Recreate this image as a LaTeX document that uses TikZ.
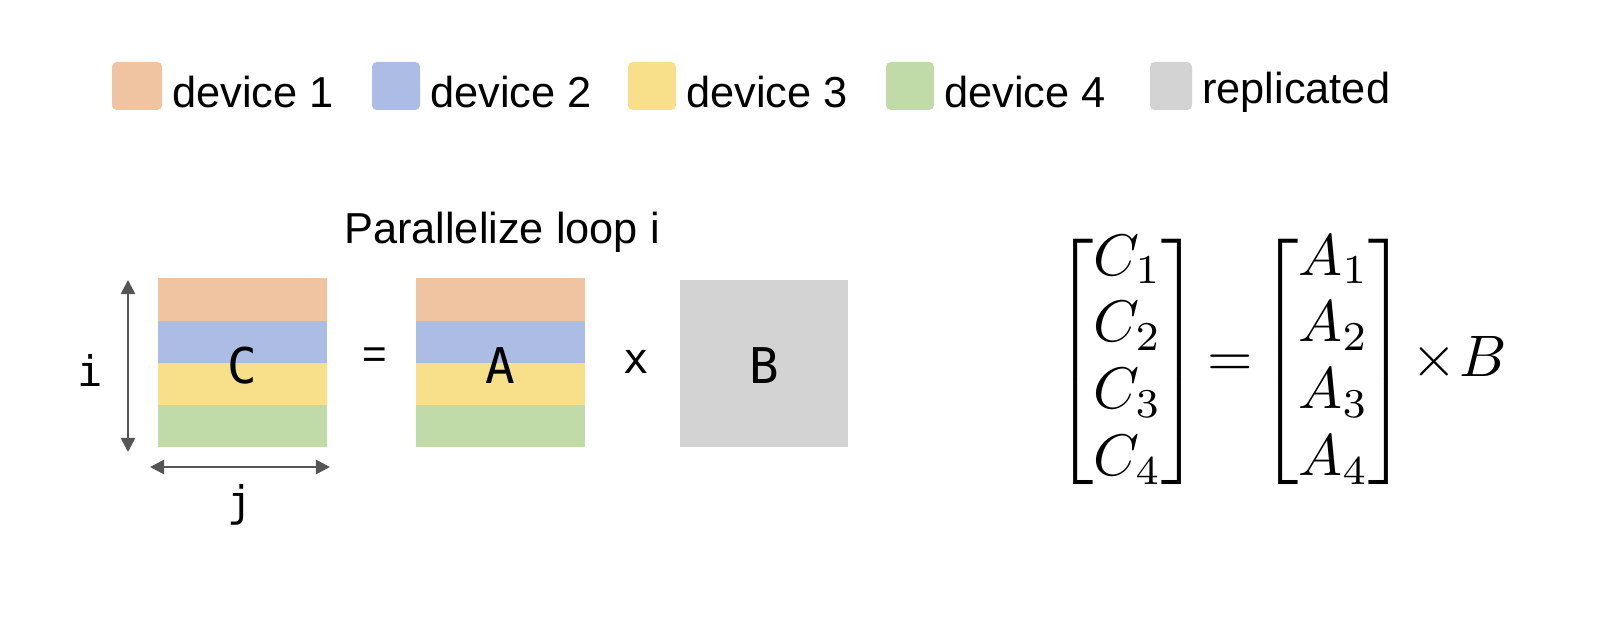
\documentclass[tikz,border=0pt]{standalone}
\usepackage{amsmath}
\usepackage{fontspec}
\setmainfont{Liberation Sans}
\setmonofont{DejaVu Sans Mono}
\usetikzlibrary{arrows.meta}
\definecolor{cOr}{HTML}{F0C4A0}
\definecolor{cBl}{HTML}{ADBCE4}
\definecolor{cYe}{HTML}{F8E08A}
\definecolor{cGr}{HTML}{C0DBA8}
\definecolor{cGy}{HTML}{D3D3D3}
\definecolor{cAr}{HTML}{555555}
\begin{document}
\begin{tikzpicture}[x=0.03cm,y=-0.03cm,
  sw/.style={rounded corners=4pt},
  lab/.style={anchor=west,font=\fontsize{37}{42}\selectfont,inner sep=0pt},
  mono/.style={font=\fontsize{42}{48}\selectfont\ttfamily},
  arr/.style={draw=cAr,line width=2.2pt,{Triangle[length=12pt,width=12pt]}-{Triangle[length=12pt,width=12pt]}}]
\useasboundingbox (0,0) rectangle (1614,624);
% legend
\fill[cOr,sw] (112,62) rectangle (162,110);
\node[lab] (l1) at (172,92) {device 1};
\fill[cBl,sw] (372,62) rectangle (420,110);
\node[lab] (l2) at (430,92) {device 2};
\fill[cYe,sw] (628,62) rectangle (676,110);
\node[lab] (l3) at (686,92) {device 3};
\fill[cGr,sw] (886,62) rectangle (934,110);
\node[lab] (l4) at (944,92) {device 4};
\fill[cGy,sw] (1150,62) rectangle (1192,110);
\node[lab] (l5) at (1202,92) {replicated};
% title
\node[font=\fontsize{37}{42}\selectfont] (title) at (502,232) {Parallelize loop i};
% C
\fill[cOr] (158,278) rectangle (327,321);
\fill[cBl] (158,321) rectangle (327,363);
\fill[cYe] (158,363) rectangle (327,405);
\fill[cGr] (158,405) rectangle (327,447);
\node[mono] (C) at (242,366) {C};
% A
\fill[cOr] (416,278) rectangle (585,321);
\fill[cBl] (416,321) rectangle (585,363);
\fill[cYe] (416,363) rectangle (585,405);
\fill[cGr] (416,405) rectangle (585,447);
\node[mono] (A) at (500,366) {A};
% B
\fill[cGy] (680,280) rectangle (848,447);
\node[mono] (B) at (764,366) {B};
\node[font=\fontsize{36}{40}\selectfont] (eq) at (375,358) {=};
\node[font=\fontsize{36}{40}\selectfont\ttfamily] (x) at (636,362) {x};
% arrows
\coordinate (it) at (128,280); \coordinate (ib) at (128,452);
\coordinate (jl) at (150,467); \coordinate (jr) at (330,467);
\draw[arr] (it) -- (ib);
\draw[arr] (jl) -- (jr);
\node[font=\fontsize{36}{40}\selectfont\ttfamily] (i) at (90,370) {i};
\node[font=\fontsize{36}{40}\selectfont\ttfamily] (j) at (240,505) {j};
% equation
\node[scale=5] (eqn) at (1281,362)
 {\renewcommand\arraystretch{0.95}\setlength\arraycolsep{1pt}$\begin{bmatrix} C_1\\ C_2\\ C_3\\ C_4\end{bmatrix}\!=\!\begin{bmatrix} A_1\\ A_2\\ A_3\\ A_4\end{bmatrix}\!\times\! B$};
\end{tikzpicture}
\end{document}
